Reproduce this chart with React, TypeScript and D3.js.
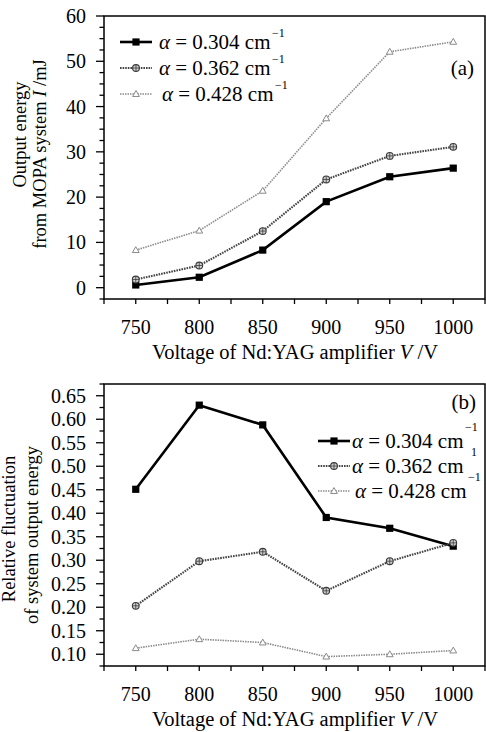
import React from 'react';
import * as d3 from 'd3';

const voltages = [750, 800, 850, 900, 950, 1000];
const voltageTicks = [750, 800, 850, 900, 950, 1000];

const energy304 = [0.6, 2.3, 8.3, 19.0, 24.5, 26.4];
const energy362 = [1.8, 4.9, 12.5, 23.9, 29.1, 31.1];
const energy428 = [8.3, 12.6, 21.4, 37.4, 52.1, 54.3];
const energyTicks = [0, 10, 20, 30, 40, 50, 60];

const fluct304 = [0.451, 0.63, 0.588, 0.391, 0.368, 0.33];
const fluct362 = [0.203, 0.298, 0.318, 0.235, 0.298, 0.337];
const fluct428 = [0.113, 0.132, 0.125, 0.095, 0.1, 0.108];
const fluctTicks = [0.1, 0.15, 0.2, 0.25, 0.3, 0.35, 0.4, 0.45, 0.5, 0.55, 0.6, 0.65];

const alphaLabels = ['0.304', '0.362', '0.428'];
const supLabelsA = ['\u22121', '\u22121', '\u22121'];
const supLabelsB = ['\u22121', '1', '\u22121'];

const FONT = '"Liberation Serif", "Times New Roman", serif';

type Kind = 'square' | 'circle' | 'triangle';
const kinds: Kind[] = ['square', 'circle', 'triangle'];
const lineStyles = [
  { stroke: '#000', width: 2.6, dash: undefined as string | undefined },
  { stroke: '#444', width: 2.1, dash: '1.6 1' },
  { stroke: '#8c8c8c', width: 1.6, dash: '1.5 1' },
];

function Marker({ kind, x, y }: { kind: Kind; x: number; y: number }) {
  if (kind === 'square') {
    return <rect x={x - 3.6} y={y - 3.6} width={7.2} height={7.2} fill="#000" />;
  }
  if (kind === 'circle') {
    return (
      <g>
        <circle cx={x} cy={y} r={3.4} fill="#cfcfcf" stroke="#3a3a3a" strokeWidth={1.1} />
        <path d={`M${x - 3.2},${y}H${x + 3.2}M${x},${y - 3.2}V${y + 3.2}`} stroke="#3a3a3a" strokeWidth={0.8} />
      </g>
    );
  }
  const tri = d3.symbol().type(d3.symbolTriangle).size(20)() || '';
  return <path d={tri} transform={`translate(${x},${y + 0.5})`} fill="#fff" stroke="#8a8a8a" strokeWidth={1} />;
}

type PanelProps = {
  top: number;
  bottom: number;
  yDomain: [number, number];
  minorStep: number;
  majorTicks: number[];
  fmt: (v: number) => string;
  series: number[][];
  panelLabel: string;
  labelPos: [number, number];
  legend: { lineX0: number; lineX1: number; textX: number[]; rows: number[]; supDy: number; sups: string[]; supDx: number[] };
  yTitle: { text: React.ReactNode; x: number; y: number }[];
};

function Panel(p: PanelProps) {
  const left = 104;
  const right = 485;
  const x = d3.scaleLinear().domain([725, 1025]).range([left, right]);
  const y = d3.scaleLinear().domain(p.yDomain).range([p.bottom, p.top]);
  const xMinor = d3.range(725, 1025 + 0.001, 25);
  const nMinor = Math.round((p.yDomain[1] - p.yDomain[0]) / p.minorStep);
  const yMinor = d3.range(0, nMinor + 1).map((i) => p.yDomain[0] + i * p.minorStep);
  const isMajor = (v: number) => p.majorTicks.some((t) => Math.abs(t - v) < 1e-6);
  const line = d3
    .line<number>()
    .x((_, i) => x(voltages[i]))
    .y((d) => y(d));

  return (
    <g>
      {p.series.map((s, si) => (
        <path
          key={'l' + si}
          d={line(s) || ''}
          fill="none"
          stroke={lineStyles[si].stroke}
          strokeWidth={lineStyles[si].width}
          strokeDasharray={lineStyles[si].dash}
        />
      ))}
      {p.series.map((s, si) =>
        s.map((v, i) => <Marker key={`m${si}-${i}`} kind={kinds[si]} x={x(voltages[i])} y={y(v)} />)
      )}
      <rect x={left} y={p.top} width={right - left} height={p.bottom - p.top} fill="none" stroke="#000" strokeWidth={1.5} />
      {xMinor.map((v) => (
        <line key={'xt' + v} x1={x(v)} x2={x(v)} y1={p.bottom} y2={p.bottom + 5} stroke="#000" strokeWidth={1.3} />
      ))}
      {voltageTicks.map((v) => (
        <text key={'xl' + v} x={x(v)} y={p.bottom + 35} textAnchor="middle" fontFamily={FONT} fontSize={20}>
          {v}
        </text>
      ))}
      {yMinor.map((v, i) => (
        <line
          key={'yt' + i}
          x1={left - (isMajor(v) ? 8 : 4.5)}
          x2={left}
          y1={y(v)}
          y2={y(v)}
          stroke="#000"
          strokeWidth={1.3}
        />
      ))}
      {p.majorTicks.map((v) => (
        <text key={'yl' + v} x={86} y={y(v) + 7} textAnchor="end" fontFamily={FONT} fontSize={20}>
          {p.fmt(v)}
        </text>
      ))}
      <text x={295} y={p.bottom + 60} textAnchor="middle" fontFamily={FONT} fontSize={20.5}>
        {'Voltage of Nd:YAG amplifier '}
        <tspan fontStyle="italic">V</tspan>
        {' /V'}
      </text>
      {p.yTitle.map((t, i) => (
        <text
          key={'yti' + i}
          transform={`translate(${t.x},${t.y}) rotate(-90)`}
          textAnchor="middle"
          fontFamily={FONT}
          fontSize={18.5}
        >
          {t.text}
        </text>
      ))}
      <text x={p.labelPos[0]} y={p.labelPos[1]} textAnchor="end" fontFamily={FONT} fontSize={21}>
        {p.panelLabel}
      </text>
      {alphaLabels.map((a, i) => {
        const ry = p.legend.rows[i];
        const mx = (p.legend.lineX0 + p.legend.lineX1) / 2;
        return (
          <g key={'lg' + i}>
            <line
              x1={p.legend.lineX0}
              x2={p.legend.lineX1}
              y1={ry - 7}
              y2={ry - 7}
              stroke={lineStyles[i].stroke}
              strokeWidth={lineStyles[i].width}
              strokeDasharray={lineStyles[i].dash}
            />
            <Marker kind={kinds[i]} x={mx} y={ry - 7} />
            <text x={p.legend.textX[i]} y={ry} fontFamily={FONT} fontSize={21}>
              <tspan fontStyle="italic">α</tspan>
              {' = ' + a + ' cm'}
              <tspan dx={p.legend.supDx[i]} dy={p.legend.supDy} fontSize={12}>
                {p.legend.sups[i]}
              </tspan>
            </text>
          </g>
        );
      })}
    </g>
  );
}

export default function App() {
  return (
    <svg
      width={486}
      height={732}
      viewBox="0 0 486 732"
      style={{ position: 'absolute', left: 0, top: 0, background: '#fff' }}
    >
      <rect x={0} y={0} width={486} height={732} fill="#fff" />
      <Panel
        top={16}
        bottom={299}
        yDomain={[-2.5, 60]}
        minorStep={2.5}
        majorTicks={energyTicks}
        fmt={(v) => String(v)}
        series={[energy304, energy362, energy428]}
        panelLabel="(a)"
        labelPos={[474, 75]}
        legend={{
          lineX0: 120,
          lineX1: 152,
          textX: [159, 159, 162],
          rows: [49, 75, 101],
          supDy: -12,
          sups: supLabelsA,
          supDx: [1.5, 1.5, 1.5],
        }}
        yTitle={[
          { text: 'Output energy', x: 26, y: 134.5 },
          {
            text: (
              <>
                {'from MOPA system '}
                <tspan fontStyle="italic">I</tspan>
                {' /mJ'}
              </>
            ),
            x: 46,
            y: 154,
          },
        ]}
      />
      <Panel
        top={384}
        bottom={666}
        yDomain={[0.075, 0.675]}
        minorStep={0.025}
        majorTicks={fluctTicks}
        fmt={(v) => d3.format('.2f')(v)}
        series={[fluct304, fluct362, fluct428]}
        panelLabel="(b)"
        labelPos={[476, 409]}
        legend={{
          lineX0: 318,
          lineX1: 350,
          textX: [352, 352, 355],
          rows: [448, 473, 498],
          supDy: -17,
          sups: supLabelsB,
          supDx: [1.5, 7.5, 1.5],
        }}
        yTitle={[
          { text: 'Relative fluctuation', x: 15, y: 529 },
          { text: 'of system output energy', x: 38, y: 535 },
        ]}
      />
    </svg>
  );
}
